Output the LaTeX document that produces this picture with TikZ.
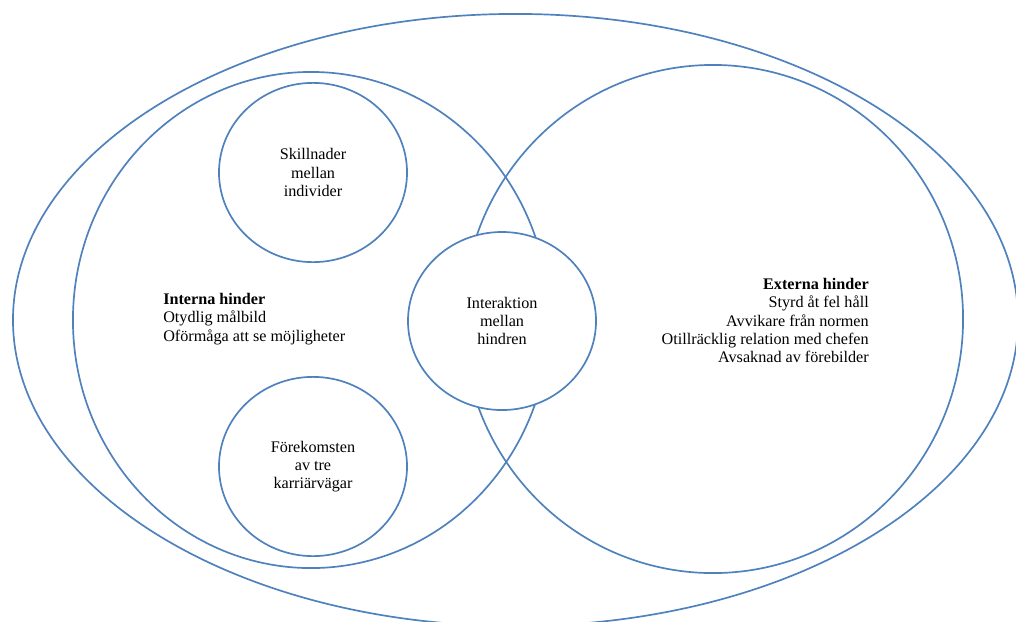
\documentclass[tikz,border=0pt]{standalone}
\usepackage{fontspec}
\setmainfont{Liberation Serif}
\usepackage{xcolor}
\usetikzlibrary{shapes.geometric}

\definecolor{ringblue}{RGB}{79,129,189}

\tikzset{
  ring/.style={ellipse, draw=ringblue, line width=1.2pt, inner sep=0pt},
  bubble/.style={ring, fill=white, align=center,
    minimum width=4.7cm, minimum height=4.48cm},
  hindertext/.style={font=\fontsize{11.5}{12.9}\selectfont}
}

\begin{document}
\begin{tikzpicture}[x=0.025cm, y=-0.025cm]
  \useasboundingbox (0,0) rectangle (1016,621);

  % Outer ring round both groups
  \node[ring, minimum width=25.12cm, minimum height=15.3cm]
    (outer) at (515.5,320) {};

  % Internal and external groups
  \node[ring, minimum width=11.9cm, minimum height=12.4cm]
    (internal) at (311,320) {};
  \node[ring, minimum width=12.5cm, minimum height=12.7cm]
    (external) at (713,319) {};

  % Small circles inside the internal group
  \node[bubble, hindertext] (skill) at (313,172.5)
    {Skillnader\\mellan\\individer};
  \node[bubble, hindertext] (paths) at (313,466.5)
    {Förekomsten\\av tre\\karriärvägar};

  % Overlap circle, filled to hide the crossing lines
  \node[bubble, hindertext, minimum height=4.45cm] (interact) at (502,321)
    {Interaktion\\mellan\\hindren};

  % Group labels
  \node[hindertext, align=left, anchor=west, inner sep=0pt]
    (internlabel) at (163,319)
    {\textbf{Interna hinder}\\Otydlig målbild\\Oförmåga att se möjligheter};
  \node[hindertext, align=right, anchor=east, inner sep=0pt]
    (externlabel) at (869,320.5)
    {\textbf{Externa hinder}\\Styrd åt fel håll\\Avvikare från normen\\
     Otillräcklig relation med chefen\\Avsaknad av förebilder};
\end{tikzpicture}
\end{document}
